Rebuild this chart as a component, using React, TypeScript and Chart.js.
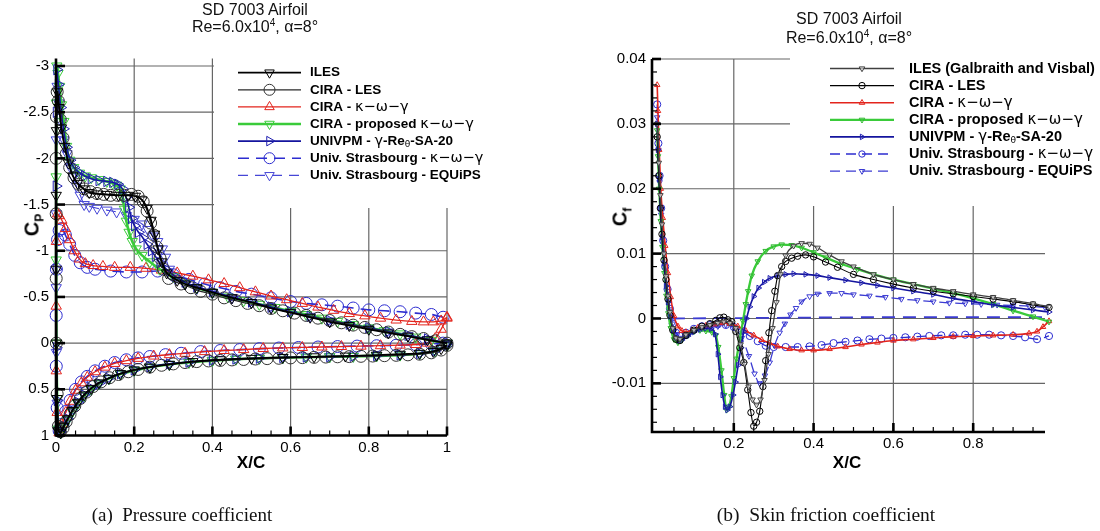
import React, { useEffect, useRef } from "react";
import { Chart, registerables } from "chart.js";

Chart.register(...registerables);

/* ================= Pressure coefficient (left panel) ================= */
const cpXTicks = [0, 0.2, 0.4, 0.6, 0.8, 1];
const cpXTickLabels = ["0", "0.2", "0.4", "0.6", "0.8", "1"];
const cpYTicks = [-3, -2.5, -2, -1.5, -1, -0.5, 0, 0.5, 1];
const cpYTickLabels = ["-3", "-2.5", "-2", "-1.5", "-1", "-0.5", "0", "0.5", "1"];

// ILES (upper TE->LE, leading edge, lower LE->TE)
const ilesCpX = [1.0, 0.95, 0.9, 0.85, 0.8, 0.75, 0.7, 0.65, 0.6, 0.55, 0.5, 0.45, 0.4, 0.36, 0.33, 0.31, 0.283, 0.271, 0.261, 0.252, 0.243, 0.233, 0.22, 0.203, 0.185, 0.16, 0.13, 0.105, 0.085, 0.07, 0.055, 0.043, 0.032, 0.022, 0.014, 0.008, 0.004,
  0.001, 0.0005, 0.0005, 0.001, 0.003,
  0.006, 0.012, 0.02, 0.03, 0.042, 0.056, 0.072, 0.09, 0.11, 0.135, 0.165, 0.2, 0.24, 0.29, 0.35, 0.42, 0.5, 0.58, 0.66, 0.74, 0.82, 0.88, 0.93, 0.965, 0.985, 1.0];
const ilesCpY = [0.0, -0.035, -0.075, -0.11, -0.15, -0.19, -0.23, -0.28, -0.33, -0.38, -0.44, -0.49, -0.55, -0.6, -0.64, -0.68, -0.76, -0.88, -1.02, -1.18, -1.33, -1.46, -1.55, -1.59, -1.6, -1.6, -1.61, -1.615, -1.63, -1.67, -1.73, -1.81, -1.95, -2.13, -2.33, -2.55, -2.72,
  -2.3, -1.6, -0.8, 0.0, 0.6,
  0.95, 0.97, 0.9, 0.82, 0.73, 0.64, 0.56, 0.49, 0.43, 0.38, 0.33, 0.29, 0.26, 0.23, 0.2, 0.18, 0.165, 0.155, 0.148, 0.14, 0.13, 0.12, 0.11, 0.09, 0.06, 0.02];

// CIRA - LES
const ciraLesCpX = [1.0, 0.97, 0.94, 0.91, 0.88, 0.85, 0.82, 0.79, 0.76, 0.73, 0.7, 0.67, 0.64, 0.61, 0.58, 0.55, 0.52, 0.49, 0.46, 0.43, 0.4, 0.37, 0.345, 0.32, 0.288, 0.275, 0.266, 0.258, 0.25, 0.242, 0.233, 0.223, 0.21, 0.193, 0.175, 0.158, 0.14, 0.122, 0.105, 0.088, 0.072, 0.058, 0.046, 0.035, 0.026, 0.018, 0.011, 0.006, 0.003,
  0.001, 0.0005, 0.0005, 0.0005, 0.001, 0.003,
  0.006, 0.011, 0.018, 0.026, 0.036, 0.048, 0.062, 0.078, 0.095, 0.115, 0.137, 0.16, 0.185, 0.21, 0.24, 0.27, 0.3, 0.33, 0.36, 0.39, 0.42, 0.45, 0.48, 0.51, 0.54, 0.57, 0.6, 0.63, 0.66, 0.69, 0.72, 0.75, 0.78, 0.81, 0.84, 0.87, 0.9, 0.93, 0.96, 0.985, 1.0];
const ciraLesCpY = [0.0, -0.025, -0.05, -0.07, -0.095, -0.12, -0.145, -0.17, -0.195, -0.22, -0.245, -0.27, -0.3, -0.325, -0.35, -0.375, -0.405, -0.43, -0.46, -0.49, -0.53, -0.56, -0.6, -0.64, -0.7, -0.8, -0.92, -1.04, -1.17, -1.3, -1.43, -1.53, -1.59, -1.61, -1.6, -1.6, -1.6, -1.61, -1.62, -1.64, -1.67, -1.72, -1.79, -1.9, -2.05, -2.22, -2.42, -2.62, -2.72,
  -2.45, -2.0, -1.4, -0.7, 0.0, 0.55,
  0.9, 0.96, 0.92, 0.85, 0.77, 0.68, 0.6, 0.53, 0.47, 0.42, 0.375, 0.34, 0.31, 0.285, 0.26, 0.24, 0.225, 0.21, 0.2, 0.193, 0.187, 0.182, 0.177, 0.172, 0.168, 0.164, 0.16, 0.157, 0.154, 0.151, 0.148, 0.146, 0.143, 0.14, 0.136, 0.132, 0.127, 0.12, 0.105, 0.075, 0.025];

// CIRA - k-w-g
const ciraKwgCpX = [1.0, 0.985, 0.965, 0.94, 0.91, 0.87, 0.83, 0.79, 0.75, 0.71, 0.67, 0.63, 0.59, 0.55, 0.51, 0.47, 0.43, 0.39, 0.35, 0.31, 0.27, 0.23, 0.19, 0.15, 0.12, 0.095, 0.075, 0.06, 0.047, 0.035, 0.024, 0.015, 0.008, 0.004,
  0.001, 0.0005, 0.0008, 0.003,
  0.008, 0.015, 0.025, 0.036, 0.05, 0.065, 0.08, 0.1, 0.125, 0.15, 0.18, 0.21, 0.25, 0.29, 0.33, 0.38, 0.43, 0.48, 0.53, 0.58, 0.63, 0.68, 0.73, 0.78, 0.83, 0.88, 0.92, 0.95, 0.97, 0.985, 1.0];
const ciraKwgCpY = [-0.28, -0.24, -0.23, -0.23, -0.235, -0.25, -0.27, -0.295, -0.32, -0.355, -0.39, -0.43, -0.47, -0.51, -0.555, -0.6, -0.645, -0.685, -0.725, -0.76, -0.79, -0.81, -0.82, -0.82, -0.83, -0.84, -0.86, -0.91, -1.0, -1.12, -1.24, -1.33, -1.38, -1.4,
  -1.1, -0.4, 0.3, 0.75,
  0.97, 0.88, 0.75, 0.63, 0.51, 0.43, 0.37, 0.31, 0.26, 0.22, 0.19, 0.165, 0.14, 0.125, 0.11, 0.092, 0.08, 0.07, 0.058, 0.052, 0.047, 0.042, 0.037, 0.033, 0.028, 0.022, 0.015, 0.0, -0.05, -0.15, -0.27];

// CIRA - proposed k-w-g
const ciraPropCpX = [1.0, 0.96, 0.92, 0.88, 0.84, 0.8, 0.76, 0.72, 0.68, 0.64, 0.6, 0.56, 0.52, 0.48, 0.44, 0.4, 0.36, 0.33, 0.3, 0.265, 0.24, 0.22, 0.205, 0.195, 0.187, 0.18, 0.175, 0.17, 0.164, 0.155, 0.145, 0.13, 0.11, 0.09, 0.075, 0.06, 0.045, 0.035, 0.027, 0.02, 0.014, 0.009, 0.005, 0.002,
  0.0008, 0.0005, 0.0005, 0.001, 0.003,
  0.006, 0.012, 0.02, 0.03, 0.042, 0.056, 0.072, 0.09, 0.11, 0.135, 0.165, 0.2, 0.24, 0.29, 0.34, 0.4, 0.46, 0.52, 0.58, 0.64, 0.7, 0.76, 0.82, 0.88, 0.93, 0.97, 1.0];
const ciraPropCpY = [0.0, -0.03, -0.065, -0.1, -0.135, -0.165, -0.2, -0.235, -0.27, -0.31, -0.345, -0.385, -0.42, -0.46, -0.5, -0.55, -0.6, -0.65, -0.72, -0.8, -0.88, -0.95, -1.02, -1.1, -1.2, -1.32, -1.45, -1.58, -1.67, -1.71, -1.73, -1.75, -1.77, -1.79, -1.81, -1.84, -1.9, -1.98, -2.13, -2.4, -2.58, -2.78, -2.92, -3.0,
  -2.6, -1.8, -0.9, 0.0, 0.6,
  0.93, 0.97, 0.91, 0.83, 0.74, 0.65, 0.57, 0.5, 0.44, 0.385, 0.335, 0.295, 0.26, 0.23, 0.21, 0.19, 0.175, 0.165, 0.158, 0.152, 0.148, 0.144, 0.138, 0.13, 0.115, 0.085, 0.03];

// UNIVPM - g-Re_theta-SA-20
const univpmCpX = [1.0, 0.95, 0.9, 0.85, 0.8, 0.75, 0.7, 0.65, 0.6, 0.55, 0.5, 0.45, 0.4, 0.36, 0.33, 0.305, 0.285, 0.266, 0.254, 0.244, 0.233, 0.222, 0.211, 0.201, 0.193, 0.186, 0.179, 0.17, 0.158, 0.145, 0.13, 0.11, 0.09, 0.073, 0.058, 0.046, 0.036, 0.027, 0.019, 0.012, 0.006, 0.002,
  0.0008, 0.0005, 0.0005, 0.001, 0.003,
  0.006, 0.012, 0.02, 0.03, 0.042, 0.056, 0.072, 0.09, 0.11, 0.135, 0.165, 0.2, 0.24, 0.29, 0.34, 0.4, 0.46, 0.52, 0.58, 0.64, 0.7, 0.76, 0.82, 0.88, 0.93, 0.97, 1.0];
const univpmCpY = [0.0, -0.045, -0.085, -0.125, -0.165, -0.205, -0.245, -0.29, -0.34, -0.39, -0.445, -0.5, -0.56, -0.61, -0.66, -0.72, -0.79, -0.87, -0.94, -1.0, -1.07, -1.14, -1.2, -1.27, -1.35, -1.47, -1.58, -1.67, -1.72, -1.74, -1.75, -1.76, -1.78, -1.81, -1.85, -1.9, -1.98, -2.12, -2.32, -2.55, -2.8, -2.96,
  -2.5, -1.7, -0.8, 0.05, 0.62,
  0.94, 0.96, 0.9, 0.82, 0.73, 0.64, 0.56, 0.49, 0.435, 0.38, 0.33, 0.29, 0.255, 0.225, 0.205, 0.185, 0.172, 0.163, 0.156, 0.15, 0.146, 0.142, 0.135, 0.127, 0.112, 0.082, 0.025];

// Univ. Strasbourg - k-w-g
const strasKwgCpX = [0.99, 0.96, 0.92, 0.88, 0.84, 0.8, 0.76, 0.72, 0.68, 0.64, 0.6, 0.55, 0.5, 0.46, 0.42, 0.38, 0.34, 0.3, 0.26, 0.22, 0.18, 0.14, 0.1, 0.08, 0.062, 0.048, 0.035, 0.024, 0.015, 0.008, 0.004,
  0.001, 0.0005, 0.0007, 0.003,
  0.008, 0.015, 0.025, 0.036, 0.05, 0.065, 0.08, 0.1, 0.125, 0.15, 0.18, 0.21, 0.24, 0.28, 0.32, 0.37, 0.42, 0.47, 0.52, 0.57, 0.62, 0.67, 0.72, 0.77, 0.82, 0.87, 0.92, 0.96, 0.99];
const strasKwgCpY = [-0.28, -0.31, -0.325, -0.34, -0.35, -0.36, -0.38, -0.4, -0.415, -0.43, -0.45, -0.49, -0.53, -0.56, -0.6, -0.64, -0.69, -0.74, -0.78, -0.77, -0.77, -0.78, -0.8, -0.82, -0.87, -0.95, -1.07, -1.17, -1.24, -1.22, -1.12,
  -0.8, -0.3, 0.25, 0.7,
  0.95, 0.88, 0.74, 0.62, 0.5, 0.42, 0.36, 0.3, 0.25, 0.21, 0.18, 0.16, 0.145, 0.125, 0.11, 0.092, 0.08, 0.07, 0.06, 0.053, 0.047, 0.042, 0.037, 0.032, 0.028, 0.023, 0.017, 0.008, 0.0];

// Univ. Strasbourg - EQUiPS
const strasEqCpX = [1.0, 0.95, 0.9, 0.85, 0.8, 0.75, 0.7, 0.65, 0.6, 0.55, 0.5, 0.45, 0.4, 0.36, 0.33, 0.305, 0.29, 0.28, 0.272, 0.26, 0.248, 0.235, 0.22, 0.2, 0.18, 0.155, 0.13, 0.105, 0.085, 0.072, 0.062, 0.052, 0.044, 0.036, 0.028, 0.02, 0.013, 0.007, 0.003,
  0.0008, 0.0005, 0.0005, 0.001, 0.003,
  0.006, 0.012, 0.02, 0.03, 0.042, 0.056, 0.072, 0.09, 0.11, 0.135, 0.165, 0.2, 0.24, 0.29, 0.34, 0.4, 0.46, 0.52, 0.58, 0.64, 0.7, 0.76, 0.82, 0.88, 0.93, 0.97, 1.0];
const strasEqCpY = [0.0, -0.04, -0.08, -0.12, -0.16, -0.2, -0.24, -0.29, -0.34, -0.39, -0.44, -0.49, -0.545, -0.59, -0.64, -0.7, -0.8, -0.93, -1.02, -1.1, -1.16, -1.23, -1.29, -1.34, -1.38, -1.42, -1.44, -1.46, -1.48, -1.5, -1.6, -1.7, -1.8, -1.91, -2.05, -2.2, -2.4, -2.6, -2.78,
  -2.2, -1.4, -0.6, 0.1, 0.65,
  0.94, 0.97, 0.91, 0.83, 0.74, 0.65, 0.57, 0.5, 0.44, 0.385, 0.335, 0.295, 0.26, 0.23, 0.205, 0.185, 0.172, 0.162, 0.155, 0.15, 0.146, 0.142, 0.136, 0.128, 0.113, 0.083, 0.02];

/* ================= Skin friction coefficient (right panel) ================= */
const cfXTicks = [0.2, 0.4, 0.6, 0.8];
const cfXTickLabels = ["0.2", "0.4", "0.6", "0.8"];
const cfYTicks = [0.04, 0.03, 0.02, 0.01, 0, -0.01];
const cfYTickLabels = ["0.04", "0.03", "0.02", "0.01", "0", "-0.01"];

const ilesCfX = [0.008, 0.012, 0.016, 0.02, 0.025, 0.03, 0.035, 0.04, 0.047, 0.055, 0.065, 0.08, 0.1, 0.12, 0.14, 0.16, 0.175, 0.19, 0.205, 0.217, 0.227, 0.237, 0.247, 0.257, 0.267, 0.277, 0.287, 0.297, 0.307, 0.317, 0.33, 0.35, 0.37, 0.39, 0.41, 0.44, 0.47, 0.5, 0.55, 0.6, 0.65, 0.7, 0.75, 0.8, 0.85, 0.9, 0.95, 0.99];
const ilesCfY = [0.03, 0.024, 0.019, 0.0145, 0.01, 0.0065, 0.0035, 0.001, -0.0015, -0.003, -0.0032, -0.0025, -0.0018, -0.0013, -0.001, -0.0007, -0.0005, -0.0007, -0.0015, -0.004, -0.007, -0.0105, -0.0125, -0.0133, -0.0125, -0.0095, -0.0055, -0.0015, 0.0025, 0.0068, 0.0097, 0.0112, 0.0116, 0.0115, 0.0109, 0.0098, 0.0088, 0.008, 0.0068, 0.006, 0.0053, 0.0047, 0.0042, 0.0037, 0.0033, 0.0028, 0.0023, 0.0018];

const ciraLesCfX = [0.008, 0.012, 0.016, 0.02, 0.025, 0.03, 0.035, 0.04, 0.047, 0.055, 0.065, 0.08, 0.1, 0.12, 0.14, 0.155, 0.165, 0.175, 0.185, 0.195, 0.205, 0.215, 0.225, 0.235, 0.243, 0.25, 0.257, 0.265, 0.273, 0.28, 0.288, 0.295, 0.303, 0.31, 0.32, 0.33, 0.345, 0.36, 0.38, 0.4, 0.43, 0.46, 0.5, 0.55, 0.6, 0.65, 0.7, 0.75, 0.8, 0.85, 0.9, 0.95, 0.99];
const ciraLesCfY = [0.028, 0.022, 0.017, 0.013, 0.009, 0.006, 0.003, 0.0005, -0.0018, -0.0032, -0.0034, -0.0026, -0.0018, -0.0012, -0.0008, -0.0003, 0.0001, 0.0002, -0.0002, -0.0005, -0.002, -0.0045, -0.0068, -0.011, -0.0145, -0.0166, -0.016, -0.0143, -0.0105, -0.0065, -0.0022, 0.0012, 0.0042, 0.0066, 0.008, 0.0088, 0.0093, 0.0096, 0.0098, 0.0095, 0.0087, 0.0079, 0.0068, 0.006, 0.0053, 0.0047, 0.0042, 0.0038, 0.0034, 0.003, 0.0026, 0.0021, 0.0017];

const ciraKwgCfX = [0.008, 0.01, 0.013, 0.017, 0.022, 0.028, 0.035, 0.042, 0.05, 0.06, 0.07, 0.08, 0.095, 0.11, 0.13, 0.15, 0.17, 0.19, 0.21, 0.23, 0.25, 0.27, 0.29, 0.31, 0.34, 0.37, 0.4, 0.44, 0.48, 0.52, 0.56, 0.6, 0.65, 0.7, 0.75, 0.8, 0.85, 0.9, 0.94, 0.96, 0.975, 0.99];
const ciraKwgCfY = [0.036, 0.032, 0.026, 0.02, 0.0155, 0.0112, 0.007, 0.0033, 0.0004, -0.0012, -0.0019, -0.0021, -0.0018, -0.0014, -0.0011, -0.0009, -0.0007, -0.0008, -0.0012, -0.0019, -0.0026, -0.0033, -0.0038, -0.0043, -0.0047, -0.0049, -0.0049, -0.0047, -0.0044, -0.004, -0.0037, -0.0034, -0.0032, -0.003, -0.0028, -0.0027, -0.0026, -0.0025, -0.0023, -0.002, -0.0013, -0.0004];

const ciraPropCfX = [0.008, 0.01, 0.013, 0.017, 0.021, 0.026, 0.031, 0.036, 0.042, 0.05, 0.06, 0.07, 0.085, 0.1, 0.115, 0.13, 0.145, 0.155, 0.161, 0.169, 0.176, 0.182, 0.188, 0.194, 0.2, 0.207, 0.215, 0.223, 0.23, 0.236, 0.245, 0.26, 0.28, 0.3, 0.32, 0.345, 0.37, 0.4, 0.43, 0.47, 0.51, 0.55, 0.6, 0.65, 0.7, 0.75, 0.8, 0.85, 0.9, 0.95, 0.99];
const ciraPropCfY = [0.029, 0.025, 0.02, 0.015, 0.011, 0.007, 0.0035, 0.0008, -0.0015, -0.0032, -0.0037, -0.0033, -0.0026, -0.002, -0.0018, -0.0019, -0.0021, -0.0026, -0.0044, -0.008, -0.0118, -0.0141, -0.0136, -0.012, -0.0092, -0.0062, -0.0032, -0.0004, 0.0022, 0.0042, 0.0066, 0.0088, 0.0104, 0.0111, 0.0114, 0.0113, 0.0109, 0.0102, 0.0094, 0.0084, 0.0076, 0.0068, 0.006, 0.0053, 0.0046, 0.0039, 0.0031, 0.0022, 0.0012, 0.0003, -0.0005];

const univpmCfX = [0.008, 0.01, 0.013, 0.016, 0.02, 0.025, 0.03, 0.035, 0.041, 0.048, 0.055, 0.062, 0.07, 0.085, 0.1, 0.115, 0.13, 0.143, 0.153, 0.16, 0.166, 0.172, 0.178, 0.184, 0.19, 0.198, 0.204, 0.211, 0.218, 0.225, 0.232, 0.24, 0.25, 0.262, 0.276, 0.29, 0.31, 0.33, 0.35, 0.38, 0.41, 0.44, 0.48, 0.52, 0.56, 0.6, 0.65, 0.7, 0.75, 0.8, 0.85, 0.9, 0.95, 0.99];
const univpmCfY = [0.03, 0.026, 0.0215, 0.017, 0.0125, 0.0085, 0.005, 0.0025, 0.0003, -0.0018, -0.0029, -0.0034, -0.0033, -0.0027, -0.0021, -0.0017, -0.0015, -0.0016, -0.0024, -0.0055, -0.009, -0.0118, -0.0136, -0.0141, -0.0136, -0.0118, -0.0098, -0.0072, -0.0045, -0.002, 0.0, 0.0018, 0.0034, 0.0047, 0.0056, 0.0062, 0.0066, 0.0068, 0.0069, 0.0068, 0.0066, 0.0063, 0.0059, 0.0055, 0.0051, 0.0047, 0.0042, 0.0037, 0.0031, 0.0026, 0.0021, 0.0017, 0.0013, 0.001];

const strasKwgCfX = [0.008, 0.011, 0.014, 0.018, 0.023, 0.028, 0.034, 0.04, 0.047, 0.055, 0.065, 0.08, 0.1, 0.12, 0.14, 0.16, 0.18, 0.2, 0.22, 0.24, 0.26, 0.28, 0.3, 0.33, 0.36, 0.39, 0.42, 0.45, 0.48, 0.51, 0.54, 0.57, 0.6, 0.63, 0.66, 0.69, 0.72, 0.75, 0.78, 0.81, 0.84, 0.87, 0.9, 0.93, 0.96, 0.99];
const strasKwgCfY = [0.033, 0.027, 0.022, 0.017, 0.012, 0.008, 0.0045, 0.0015, -0.0008, -0.0022, -0.0027, -0.0022, -0.0016, -0.0012, -0.001, -0.0009, -0.001, -0.0013, -0.0019, -0.0027, -0.0035, -0.0042, -0.0044, -0.0044, -0.0044, -0.0043, -0.0041, -0.0038, -0.0036, -0.0034, -0.0032, -0.0031, -0.003, -0.0029, -0.0028, -0.0027, -0.0026, -0.0026, -0.0025, -0.0025, -0.0025, -0.0026, -0.0027, -0.0029, -0.0032, -0.0027];

const strasEqCfX = [0.008, 0.011, 0.014, 0.018, 0.023, 0.028, 0.034, 0.04, 0.047, 0.055, 0.065, 0.08, 0.1, 0.12, 0.14, 0.16, 0.18, 0.2, 0.22, 0.238, 0.252, 0.265, 0.278, 0.29, 0.302, 0.315, 0.328, 0.342, 0.356, 0.37, 0.39, 0.41, 0.44, 0.47, 0.5, 0.54, 0.58, 0.62, 0.66, 0.7, 0.74, 0.78, 0.82, 0.86, 0.9, 0.94, 0.98];
const strasEqCfY = [0.031, 0.026, 0.021, 0.016, 0.0115, 0.0075, 0.0042, 0.0014, -0.0008, -0.0024, -0.003, -0.0025, -0.0019, -0.0016, -0.0014, -0.0012, -0.001, -0.0014, -0.003, -0.0058, -0.0085, -0.01, -0.0088, -0.0068, -0.0042, -0.0022, -0.0008, 0.0006, 0.0016, 0.0026, 0.0034, 0.0038, 0.0039, 0.0039, 0.0037, 0.0035, 0.0033, 0.003, 0.0028, 0.0026, 0.0024, 0.0023, 0.0022, 0.0021, 0.002, 0.0019, 0.0017];

// Univ. Strasbourg lower-surface trace lying on Cf = 0
const strasZeroCfX = [0.045, 0.3, 0.6, 0.98];
const strasZeroCfY = [0.0, 0.0001, 0.0002, 0.0002];

/* ================= styles ================= */
const GREEK = "κ−ω−γ";

type St = { color: string; lw: number; dash: number[]; shape: string; rot: number; r: number; mc: string; mf: string; mw: number };

const cpStyles: Record<string, St> = {
  iles: { color: "#000000", lw: 1.8, dash: [], shape: "triangle", rot: 180, r: 6, mc: "#000000", mf: "rgba(0,0,0,0)", mw: 1 },
  ciraLes: { color: "#2a2a2a", lw: 1.2, dash: [], shape: "circle", rot: 0, r: 6, mc: "#333333", mf: "rgba(0,0,0,0)", mw: 1 },
  ciraKwg: { color: "#e3241c", lw: 1.3, dash: [], shape: "triangle", rot: 0, r: 6, mc: "#e3241c", mf: "rgba(0,0,0,0)", mw: 1 },
  ciraProp: { color: "#3acb3a", lw: 2.6, dash: [], shape: "triangle", rot: 180, r: 6, mc: "#3acb3a", mf: "rgba(0,0,0,0)", mw: 1 },
  univpm: { color: "#14149e", lw: 1.6, dash: [], shape: "triangle", rot: 90, r: 6, mc: "#2020b0", mf: "rgba(0,0,0,0)", mw: 1 },
  strasKwg: { color: "#2c2cd0", lw: 1.6, dash: [11, 7], shape: "circle", rot: 0, r: 6, mc: "#2c2cd0", mf: "rgba(0,0,0,0)", mw: 1 },
  strasEq: { color: "#4646d6", lw: 1.2, dash: [10, 7], shape: "triangle", rot: 180, r: 6, mc: "#4646d6", mf: "rgba(0,0,0,0)", mw: 1 },
};

const cfStyles: Record<string, St> = {
  iles: { color: "#404040", lw: 1.3, dash: [], shape: "triangle", rot: 180, r: 3.2, mc: "#404040", mf: "rgba(255,255,255,0.6)", mw: 1 },
  ciraLes: { color: "#000000", lw: 1.1, dash: [], shape: "circle", rot: 0, r: 3.2, mc: "#000000", mf: "rgba(0,0,0,0)", mw: 1 },
  ciraKwg: { color: "#e3241c", lw: 1.6, dash: [], shape: "triangle", rot: 0, r: 3.2, mc: "#e3241c", mf: "rgba(0,0,0,0)", mw: 1 },
  ciraProp: { color: "#3acb3a", lw: 2.3, dash: [], shape: "triangle", rot: 180, r: 3.2, mc: "#30b830", mf: "rgba(0,0,0,0)", mw: 1 },
  univpm: { color: "#14149e", lw: 1.6, dash: [], shape: "triangle", rot: 90, r: 3.2, mc: "#2020b0", mf: "rgba(0,0,0,0)", mw: 1 },
  strasKwg: { color: "#2c2cd0", lw: 1.3, dash: [10, 6], shape: "circle", rot: 0, r: 3.6, mc: "#2c2cd0", mf: "rgba(0,0,0,0)", mw: 1 },
  strasEq: { color: "#3b3bd2", lw: 1.3, dash: [10, 6], shape: "triangle", rot: 180, r: 3.2, mc: "#3b3bd2", mf: "rgba(0,0,0,0)", mw: 1 },
  strasZero: { color: "#3b3bd2", lw: 1.8, dash: [13, 8], shape: "circle", rot: 0, r: 0, mc: "#3b3bd2", mf: "rgba(0,0,0,0)", mw: 0 },
};

type Part = { t: string; k: "b" | "g" | "s" };
const legendParts = (first: string): Part[][] => [
  [{ t: first, k: "b" }],
  [{ t: "CIRA - LES", k: "b" }],
  [{ t: "CIRA - ", k: "b" }, { t: GREEK, k: "g" }],
  [{ t: "CIRA - proposed ", k: "b" }, { t: GREEK, k: "g" }],
  [{ t: "UNIVPM - ", k: "b" }, { t: "γ", k: "g" }, { t: "-Re", k: "b" }, { t: "θ", k: "s" }, { t: "-SA-20", k: "b" }],
  [{ t: "Univ. Strasbourg - ", k: "b" }, { t: GREEK, k: "g" }],
  [{ t: "Univ. Strasbourg - EQUiPS", k: "b" }],
];
const legendOrder = ["iles", "ciraLes", "ciraKwg", "ciraProp", "univpm", "strasKwg", "strasEq"];

/* ================= helpers ================= */
const pts = (xs: number[], ys: number[]) => {
  const n = Math.min(xs.length, ys.length);
  const out: { x: number; y: number }[] = [];
  for (let i = 0; i < n; i++) out.push({ x: xs[i], y: ys[i] });
  return out;
};

function ds(xs: number[], ys: number[], s: St, mono: boolean) {
  return {
    data: pts(xs, ys),
    showLine: true,
    fill: false,
    borderColor: s.color,
    borderWidth: s.lw,
    borderDash: s.dash,
    tension: mono ? 0 : 0.2,
    cubicInterpolationMode: mono ? "monotone" : "default",
    pointStyle: s.shape,
    pointRotation: s.rot,
    pointRadius: s.r,
    pointHoverRadius: s.r,
    pointBorderColor: s.mc,
    pointBackgroundColor: s.mf,
    pointBorderWidth: s.mw,
    clip: false,
  };
}

function drawMarker(ctx: CanvasRenderingContext2D, s: St, x: number, y: number) {
  if (s.r <= 0) return;
  ctx.save();
  ctx.setLineDash([]);
  ctx.beginPath();
  if (s.shape === "circle") {
    ctx.arc(x, y, s.r, 0, Math.PI * 2);
  } else {
    let rad = (s.rot * Math.PI) / 180;
    ctx.moveTo(x + Math.sin(rad) * s.r, y - Math.cos(rad) * s.r);
    rad += (2 * Math.PI) / 3;
    ctx.lineTo(x + Math.sin(rad) * s.r, y - Math.cos(rad) * s.r);
    rad += (2 * Math.PI) / 3;
    ctx.lineTo(x + Math.sin(rad) * s.r, y - Math.cos(rad) * s.r);
    ctx.closePath();
  }
  ctx.fillStyle = s.mf;
  ctx.fill();
  ctx.strokeStyle = s.mc;
  ctx.lineWidth = s.mw;
  ctx.stroke();
  ctx.restore();
}

const framePlugin = {
  id: "frame",
  beforeDatasetsDraw(chart: any, _a: any, o: any) {
    const { ctx, chartArea: a } = chart;
    const sx = chart.scales.x, sy = chart.scales.y;
    ctx.save();
    ctx.strokeStyle = o.gridColor;
    ctx.lineWidth = o.gridWidth;
    o.gridX.forEach((v: number) => {
      const p = sx.getPixelForValue(v);
      ctx.beginPath(); ctx.moveTo(p, a.top); ctx.lineTo(p, a.bottom); ctx.stroke();
    });
    o.gridY.forEach((v: number) => {
      const p = sy.getPixelForValue(v);
      ctx.beginPath(); ctx.moveTo(a.left, p); ctx.lineTo(a.right, p); ctx.stroke();
    });
    ctx.restore();
  },
  afterDatasetsDraw(chart: any, _a: any, o: any) {
    const { ctx, chartArea: a } = chart;
    const sx = chart.scales.x, sy = chart.scales.y;
    const L = o.legend;
    ctx.save();
    ctx.fillStyle = "#ffffff";
    ctx.fillRect(L.box[0], L.box[1], L.box[2], L.box[3]);
    L.entries.forEach((e: any, i: number) => {
      const y = L.rows[i];
      ctx.save();
      ctx.strokeStyle = e.s.color;
      ctx.lineWidth = e.s.lw;
      ctx.setLineDash(e.s.dash);
      ctx.beginPath(); ctx.moveTo(L.x1, y); ctx.lineTo(L.x2, y); ctx.stroke();
      ctx.restore();
      drawMarker(ctx, { ...e.s, r: L.mr }, L.mx, y);
      let x = L.tx;
      ctx.fillStyle = "#000000";
      ctx.textBaseline = "middle";
      e.parts.forEach((p: Part) => {
        ctx.font = L.fonts[p.k];
        const dy = p.k === "s" ? 4 : 0;
        ctx.fillText(p.t, x, y + dy);
        x += ctx.measureText(p.t).width;
      });
    });
    ctx.strokeStyle = "#000000";
    ctx.setLineDash([]);
    ctx.lineWidth = 2.6;
    ctx.beginPath();
    ctx.moveTo(a.left, a.top); ctx.lineTo(a.left, a.bottom); ctx.lineTo(a.right, a.bottom);
    ctx.stroke();
    ctx.lineWidth = 2.6;
    o.majorX.forEach((v: number) => {
      const p = sx.getPixelForValue(v);
      ctx.beginPath(); ctx.moveTo(p, a.bottom); ctx.lineTo(p, a.bottom - 9); ctx.stroke();
    });
    o.majorY.forEach((v: number) => {
      const p = sy.getPixelForValue(v);
      ctx.beginPath(); ctx.moveTo(a.left, p); ctx.lineTo(a.left + 9, p); ctx.stroke();
    });
    ctx.lineWidth = 1.2;
    o.minorX.forEach((v: number) => {
      const p = sx.getPixelForValue(v);
      ctx.beginPath(); ctx.moveTo(p, a.bottom); ctx.lineTo(p, a.bottom - 5); ctx.stroke();
    });
    o.minorY.forEach((v: number) => {
      const p = sy.getPixelForValue(v);
      ctx.beginPath(); ctx.moveTo(a.left, p); ctx.lineTo(a.left + 5, p); ctx.stroke();
    });
    ctx.restore();
  },
};

function minorTicks(from: number, to: number, step: number, majors: number[]) {
  const out: number[] = [];
  const n = Math.round((to - from) / step);
  for (let i = 0; i <= n; i++) {
    const v = +(from + i * step).toFixed(6);
    if (!majors.some((m) => Math.abs(m - v) < 1e-9)) out.push(v);
  }
  return out;
}

const tickFont = { family: "'Liberation Sans', Arial, sans-serif", size: 15 };

function makeConfig(panel: "cp" | "cf") {
  const isCp = panel === "cp";
  const st = isCp ? cpStyles : cfStyles;
  const datasets: any[] = isCp
    ? [
        ds(ilesCpX, ilesCpY, st.iles, false),
        ds(ciraLesCpX, ciraLesCpY, st.ciraLes, false),
        ds(univpmCpX, univpmCpY, st.univpm, false),
        ds(ciraPropCpX, ciraPropCpY, st.ciraProp, false),
        ds(ciraKwgCpX, ciraKwgCpY, st.ciraKwg, false),
        ds(strasKwgCpX, strasKwgCpY, st.strasKwg, false),
        ds(strasEqCpX, strasEqCpY, st.strasEq, false),
      ]
    : [
        ds(ilesCfX, ilesCfY, st.iles, true),
        ds(ciraLesCfX, ciraLesCfY, st.ciraLes, true),
        ds(univpmCfX, univpmCfY, st.univpm, true),
        ds(ciraPropCfX, ciraPropCfY, st.ciraProp, true),
        ds(ciraKwgCfX, ciraKwgCfY, st.ciraKwg, true),
        ds(strasKwgCfX, strasKwgCfY, st.strasKwg, true),
        ds(strasEqCfX, strasEqCfY, st.strasEq, true),
        ds(strasZeroCfX, strasZeroCfY, st.strasZero, true),
      ];

  const parts = legendParts(isCp ? "ILES" : "ILES (Galbraith and Visbal)");
  const legend = isCp
    ? {
        box: [214, 0, 336, 208], x1: 238, x2: 301, mx: 269.5, tx: 310, mr: 5.5,
        rows: [72.7, 89.8, 106.9, 124, 141.1, 158.2, 175.3],
        fonts: { b: "bold 13.5px 'Liberation Sans', Arial", g: "14.5px 'DejaVu Sans'", s: "9px 'DejaVu Sans'" },
        entries: legendOrder.map((k, i) => ({ s: st[k], parts: parts[i] })),
      }
    : {
        box: [240, 0, 310, 206], x1: 280, x2: 344, mx: 312, tx: 359, mr: 3.2,
        rows: [68.5, 85.6, 102.7, 119.8, 136.9, 154, 171.1],
        fonts: { b: "bold 14.5px 'Liberation Sans', Arial", g: "15px 'DejaVu Sans'", s: "9px 'DejaVu Sans'" },
        entries: legendOrder.map((k, i) => ({ s: st[k], parts: parts[i] })),
      };

  const xT = isCp ? cpXTicks : cfXTicks;
  const xL = isCp ? cpXTickLabels : cfXTickLabels;
  const yT = isCp ? cpYTicks : cfYTicks;
  const yL = isCp ? cpYTickLabels : cfYTickLabels;

  return {
    type: "scatter",
    data: { datasets },
    plugins: [framePlugin],
    options: {
      responsive: false,
      animation: false,
      devicePixelRatio: 1,
      events: [],
      layout: { padding: isCp ? { left: 0, right: 103, top: 58.6, bottom: 0 } : { left: 0, right: 55, top: 59, bottom: 0 } },
      plugins: {
        legend: { display: false },
        tooltip: { enabled: false },
        frame: {
          gridColor: "#666666",
          gridWidth: 1.2,
          gridX: isCp ? [0.2, 0.4, 0.6, 0.8, 1] : [0.2, 0.4, 0.6, 0.8],
          gridY: isCp ? [-3, -2.5, -2, -1.5, -1, -0.5, 0, 0.5] : [0.04, 0.03, 0.02, 0.01, 0, -0.01],
          majorX: isCp ? cpXTicks : cfXTicks,
          majorY: isCp ? cpYTicks : cfYTicks,
          minorX: isCp ? minorTicks(0, 1, 0.05, cpXTicks) : minorTicks(0.05, 0.95, 0.05, cfXTicks),
          minorY: isCp ? [] : minorTicks(-0.016, 0.038, 0.002, cfYTicks),
          legend,
        },
      },
      scales: {
        x: {
          type: "linear",
          min: isCp ? 0 : -0.005,
          max: isCp ? 1 : 0.98,
          afterBuildTicks: (s: any) => { s.ticks = xT.map((v) => ({ value: v })); },
          afterFit: (s: any) => { s.height = isCp ? 95.5 : 99; },
          ticks: { autoSkip: false, maxRotation: 0, padding: 3, color: "#000", font: tickFont, callback: (_v: any, i: number) => xL[i] },
          grid: { display: false, drawTicks: false },
          border: { display: false },
        },
        y: {
          type: "linear",
          min: isCp ? -3.08 : -0.0175,
          max: isCp ? 1 : 0.04,
          reverse: isCp,
          afterBuildTicks: (s: any) => { s.ticks = yT.map((v) => ({ value: v })); },
          afterFit: (s: any) => { s.width = isCp ? 56 : 102; },
          ticks: { autoSkip: false, padding: isCp ? 7 : 6, color: "#000", font: tickFont, callback: (_v: any, i: number) => yL[i] },
          grid: { display: false, drawTicks: false },
          border: { display: false },
        },
      },
    },
  };
}

function Panel({ panel, left }: { panel: "cp" | "cf"; left: number }) {
  const ref = useRef<HTMLCanvasElement | null>(null);
  useEffect(() => {
    if (!ref.current) return;
    const chart = new Chart(ref.current, makeConfig(panel) as any);
    return () => chart.destroy();
  }, [panel]);
  return <canvas ref={ref} width={550} height={531} style={{ position: "absolute", left, top: 0, width: 550, height: 531 }} />;
}

const sans = "'Liberation Sans', Arial, Helvetica, sans-serif";

function Title({ cx, top, lh }: { cx: number; top: number; lh: number }) {
  return (
    <div style={{ position: "absolute", left: cx - 150, top, width: 300, textAlign: "center", fontFamily: sans, fontSize: 16, lineHeight: lh + "px", color: "#111" }}>
      <div>SD 7003 Airfoil</div>
      <div>
        Re=6.0x10<sup style={{ fontSize: 10, lineHeight: 0, verticalAlign: "6px" }}>4</sup>, α=8°
      </div>
    </div>
  );
}

function YLabel({ cx, cy, sub }: { cx: number; cy: number; sub: string }) {
  return (
    <div style={{ position: "absolute", left: cx, top: cy, transform: "translate(-50%, -50%) rotate(-90deg)", fontFamily: sans, fontWeight: "bold", fontSize: 20, whiteSpace: "nowrap", color: "#000", lineHeight: "22px" }}>
      C<span style={{ fontSize: 12, position: "relative", top: 5 }}>{sub}</span>
    </div>
  );
}

function Centered({ cx, cy, children, style }: any) {
  return (
    <div style={{ position: "absolute", left: cx, top: cy, transform: "translate(-50%, -50%)", whiteSpace: "nowrap", ...style }}>{children}</div>
  );
}

const captionStyle = { fontFamily: "'Liberation Serif', 'Times New Roman', serif", fontSize: 19, color: "#111" };

export default function App() {
  return (
    <div style={{ position: "absolute", left: 0, top: 0, width: 1100, height: 531, background: "#fff", overflow: "hidden" }}>
      <Panel panel="cp" left={0} />
      <Panel panel="cf" left={550} />
      <Title cx={255} top={1} lh={17} />
      <Title cx={849} top={9} lh={19} />
      <YLabel cx={33} cy={225} sub="P" />
      <YLabel cx={621} cy={217} sub="f" />
      <Centered cx={251} cy={463} style={{ fontFamily: sans, fontWeight: "bold", fontSize: 17 }}>X/C</Centered>
      <Centered cx={847} cy={463} style={{ fontFamily: sans, fontWeight: "bold", fontSize: 17 }}>X/C</Centered>
      <Centered cx={182} cy={515} style={captionStyle}>(a)&nbsp;&nbsp;Pressure coefficient</Centered>
      <Centered cx={826} cy={515} style={{ ...captionStyle, fontSize: 19.5 }}>(b)&nbsp;&nbsp;Skin friction coefficient</Centered>
    </div>
  );
}
